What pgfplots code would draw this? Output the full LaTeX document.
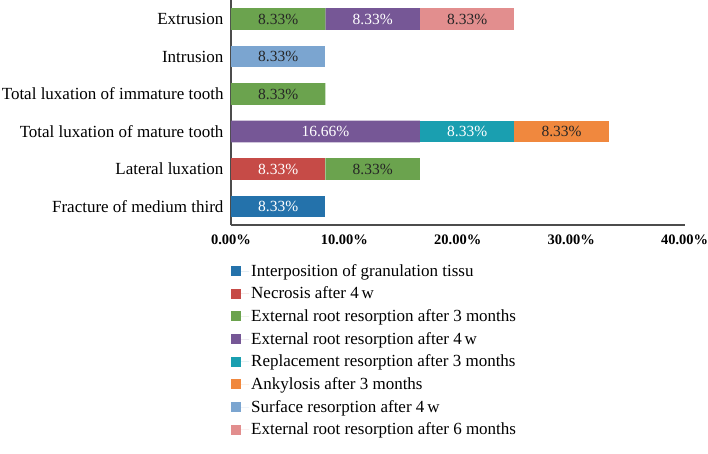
\documentclass[border=0pt]{standalone}
\usepackage{pgfplots}
\pgfplotsset{compat=1.18}
\usepackage{pgfplotstable}
\usepackage{fontspec}
\setmainfont{Liberation Serif}

\definecolor{cBlue}{HTML}{2472AB}
\definecolor{cRed}{HTML}{C64B47}
\definecolor{cGreen}{HTML}{6BA34E}
\definecolor{cPurple}{HTML}{765796}
\definecolor{cTeal}{HTML}{1A9FB0}
\definecolor{cOrange}{HTML}{F0883E}
\definecolor{cLBlue}{HTML}{7BA5D0}
\definecolor{cPink}{HTML}{E28E8E}

% y: 0 = Fracture of medium third ... 5 = Extrusion
\pgfplotstableread{
y  gran  necr  err3  err4  repl  anky  surf  err6
0  8.33  0     0     0     0     0     0     0
1  0     8.33  8.33  0     0     0     0     0
2  0     0     0     16.66 8.33  8.33  0     0
3  0     0     8.33  0     0     0     0     0
4  0     0     0     0     0     0     8.33  0
5  0     0     8.33  8.33  0     0     0     8.33
}\datatable

\newcommand{\segplot}[3]{% color, column, label colour
  \addplot[fill=#1, draw=none,
    visualization depends on={\thisrow{#2} \as \segw},
    nodes near coords={\pgfmathparse{\segw>0.01}\ifdim\pgfmathresult pt>0.5pt \pgfmathprintnumber[fixed,fixed zerofill,precision=2]{\segw}\%\fi},
    every node near coord/.append style={anchor=center, text=#3,
      font=\fontsize{15.5}{18}\selectfont},
  ] table[x=#2, y=y] {\datatable};
}

\begin{document}
\begin{tikzpicture}
\begin{axis}[
  xbar stacked,
  x=11.34pt, y=37.5pt,
  xmin=0, xmax=40,
  ymin=-0.493, ymax=5.507,
  bar width=21.7pt,
  axis lines=left,
  axis line style={-, draw=black!70, line width=1.2pt},
  major tick length=0pt,
  xtick={0,10,20,30,40},
  xticklabel={\pgfmathprintnumber[fixed,fixed zerofill,precision=2]{\tick}\%},
  /pgf/number format/assume math mode=true,
  xticklabel style={font=\fontsize{14.5}{18}\selectfont\bfseries, yshift=-6pt},
  ytick={0,1,2,3,4,5},
  yticklabels={Fracture of medium third, Lateral luxation, Total luxation of mature tooth, Total luxation of immature tooth, Intrusion, Extrusion},
  yticklabel style={font=\fontsize{17}{20}\selectfont, xshift=-4pt},
  legend style={at={(axis description cs:0,-0.165)}, anchor=north west, draw=none,
    font=\fontsize{17}{20}\selectfont, row sep=5.2pt, inner sep=0pt},
  legend cell align=left,
  legend image code/.code={\fill[#1] (0pt,-5pt) rectangle (10pt,5pt); \path (0pt,0pt) -- (18pt,0pt);},
]
\segplot{cBlue}{gran}{white}
\segplot{cRed}{necr}{white}
\segplot{cGreen}{err3}{black!85}
\segplot{cPurple}{err4}{white}
\segplot{cTeal}{repl}{white}
\segplot{cOrange}{anky}{black!85}
\segplot{cLBlue}{surf}{black!85}
\segplot{cPink}{err6}{black!85}
\legend{Interposition of granulation tissu, Necrosis after 4\,w, External root resorption after 3 months, External root resorption after 4\,w, Replacement resorption after 3 months, Ankylosis after 3 months, Surface resorption after 4\,w, External root resorption after 6 months}
\end{axis}
\pgfresetboundingbox
\path[use as bounding box] (current axis.north west) ++(-231pt,0) rectangle ++(708pt,-453pt);
\end{tikzpicture}
\end{document}
